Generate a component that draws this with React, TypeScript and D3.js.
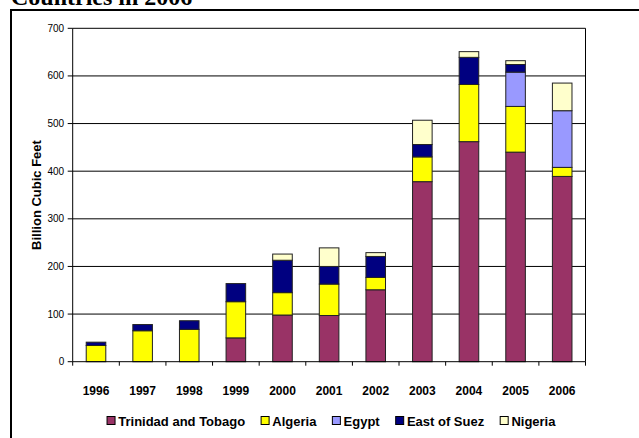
import React from "react";
import * as d3 from "d3";

const years = ["1996", "1997", "1998", "1999", "2000", "2001", "2002", "2003", "2004", "2005", "2006"];
const trinidad = [0, 0, 0, 50, 98, 97, 151, 378, 462, 440, 389];
const algeria = [34, 65, 68, 76, 47, 66, 26, 52, 120, 96, 19];
const egypt = [0, 0, 0, 0, 0, 0, 0, 0, 0, 72, 119];
const eastOfSuez = [7, 13, 18, 38, 68, 37, 44, 26, 57, 16, 0];
const nigeria = [0, 0, 0, 0, 13, 39, 8, 51, 12, 8, 58];
const seriesNames = ["Trinidad and Tobago", "Algeria", "Egypt", "East of Suez", "Nigeria"];
const seriesColors = ["#993366", "#FFFF00", "#9999FF", "#000080", "#FFFFCC"];
const yTicks = [0, 100, 200, 300, 400, 500, 600, 700];
const title = "Countries in 2006";
const yTitle = "Billion Cubic Feet";

const FONT = "'Liberation Sans', Arial, sans-serif";

function measure(text: string, font: string): number {
  const c = document.createElement("canvas").getContext("2d");
  if (!c) return text.length * 7;
  c.font = font;
  return c.measureText(text).width;
}

export default function App() {
  const W = 639, H = 438;
  const left = 72.7, right = 585.5, top = 28.3, bottom = 361.7;

  const table = years.map((y, i) => ({
    year: y,
    "Trinidad and Tobago": trinidad[i],
    Algeria: algeria[i],
    Egypt: egypt[i],
    "East of Suez": eastOfSuez[i],
    Nigeria: nigeria[i],
  }));
  const stacked = d3.stack<any>().keys(seriesNames)(table);

  const x = d3.scaleBand<string>().domain(years).range([left, right]).paddingInner(0.58).paddingOuter(0.29);
  const y = d3.scaleLinear().domain([0, 700]).range([bottom, top]);
  const step = x.step();

  // legend layout
  const legSize = 13;
  const sw = 8, swGap = 3.7, itemGap = 15.5;
  const widths = seriesNames.map((s) => measure(s, `bold ${legSize}px 'Liberation Sans'`));
  const itemW = widths.map((w) => sw + swGap + w);
  const total = d3.sum(itemW) + itemGap * (seriesNames.length - 1);
  const legStart = 331 - total / 2;
  let acc = legStart;
  const legPos = itemW.map((w) => {
    const p = acc;
    acc += w + itemGap;
    return p;
  });

  return (
    <svg width={W} height={H} style={{ position: "absolute", left: 0, top: 0, display: "block", background: "#fff" }}>
      <text x={11} y={5} fontFamily="'Liberation Serif', 'Times New Roman', serif" fontWeight="bold" fontSize={24} fill="#000">
        {title}
      </text>
      <path d={`M11,445 L11,10 L645,10`} fill="none" stroke="#000" strokeWidth={2} />

      {/* gridlines */}
      {yTicks.filter((t) => t > 0).map((t) => (
        <line key={t} x1={left} x2={right} y1={y(t)} y2={y(t)} stroke="#000" strokeWidth={1} />
      ))}
      <line x1={right} x2={right} y1={top} y2={bottom} stroke="#000" strokeWidth={1} />

      {/* bars */}
      {stacked.map((s, si) => (
        <g key={s.key}>
          {s.map((d, i) =>
            d[1] - d[0] > 0 ? (
              <rect
                key={i}
                x={x(years[i])}
                width={x.bandwidth()}
                y={y(d[1])}
                height={y(d[0]) - y(d[1])}
                fill={seriesColors[si]}
                stroke="#222"
                strokeWidth={1}
              />
            ) : null
          )}
        </g>
      ))}

      {/* y axis */}
      <line x1={left} x2={left} y1={top} y2={bottom} stroke="#000" strokeWidth={1} />
      {yTicks.map((t) => (
        <g key={t}>
          <line x1={left - 5} x2={left} y1={y(t)} y2={y(t)} stroke="#000" strokeWidth={1} />
          <text x={left - 8.5} y={y(t) + 3.5} textAnchor="end" fontFamily={FONT} fontSize={10} fill="#000">
            {t}
          </text>
        </g>
      ))}
      <text
        transform={`translate(40.5,${(top + bottom) / 2}) rotate(-90)`}
        textAnchor="middle"
        fontFamily={FONT}
        fontWeight="bold"
        fontSize={13}
        fill="#000"
      >
        {yTitle}
      </text>

      {/* x axis */}
      <line x1={left} x2={right} y1={bottom} y2={bottom} stroke="#000" strokeWidth={1} />
      {d3.range(years.length + 1).map((i) => (
        <line key={i} x1={left + i * step} x2={left + i * step} y1={bottom} y2={bottom + 4} stroke="#000" strokeWidth={1} />
      ))}
      {years.map((yr) => (
        <text
          key={yr}
          x={(x(yr) as number) + x.bandwidth() / 2}
          y={395}
          textAnchor="middle"
          fontFamily={FONT}
          fontWeight="bold"
          fontSize={12}
          fill="#000"
        >
          {yr}
        </text>
      ))}

      {/* legend */}
      {seriesNames.map((s, i) => (
        <g key={s}>
          <rect x={legPos[i] + 0.5} y={416.5} width={sw} height={sw} fill={seriesColors[i]} stroke="#000" strokeWidth={1} />
          <text x={legPos[i] + sw + swGap} y={425.5} fontFamily={FONT} fontWeight="bold" fontSize={legSize} fill="#000">
            {s}
          </text>
        </g>
      ))}
    </svg>
  );
}
